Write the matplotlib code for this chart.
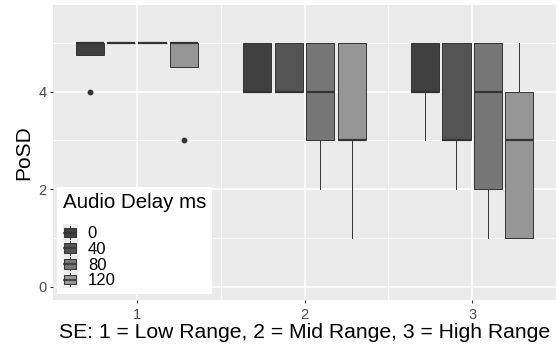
import matplotlib
matplotlib.use("Agg")
import matplotlib.pyplot as plt
from matplotlib.patches import Rectangle, Patch
from matplotlib.lines import Line2D
from matplotlib.legend_handler import HandlerBase

plt.rcParams['font.family'] = ['Liberation Sans', 'DejaVu Sans']

# SE groups on the x axis, audio delay series within each group
groups = [1, 2, 3]
delays = ['0', '40', '80', '120']
fills = ['#404040', '#545454', '#777777', '#969696']

# box statistics per delay, one value per SE group
q1 = {'0': [4.75, 4, 4], '40': [5, 4, 3], '80': [5, 3, 2], '120': [4.5, 3, 1]}
med = {'0': [5, 4, 4], '40': [5, 4, 3], '80': [5, 4, 4], '120': [5, 3, 3]}
q3 = {'0': [5, 5, 5], '40': [5, 5, 5], '80': [5, 5, 5], '120': [5, 5, 4]}
whislo = {'0': [4.75, 4, 3], '40': [5, 4, 2], '80': [5, 2, 1], '120': [4.5, 1, 1]}
whishi = {'0': [5, 5, 5], '40': [5, 5, 5], '80': [5, 5, 5], '120': [5, 5, 5]}
fliers = {'0': [[4], [], []], '40': [[], [], []], '80': [[], [], []], '120': [[3], [], []]}

y_ticks = [0, 2, 4]
x_ticks = [1, 2, 3]

W, H = 557, 347
fig = plt.figure(figsize=(W / 100, H / 100), dpi=100)
ax = fig.add_axes([53 / W, 1 - 300 / H, 503 / W, 295 / H])
ax.set_facecolor('#EBEBEB')

dodge = 0.75
n = len(delays)
slot = dodge / n
box_w = slot * 0.9
edge = '#333333'

for i, d in enumerate(delays):
    offset = -dodge / 2 + slot * (i + 0.5)
    stats = []
    for j, g in enumerate(groups):
        stats.append(dict(q1=q1[d][j], med=med[d][j], q3=q3[d][j],
                          whislo=whislo[d][j], whishi=whishi[d][j],
                          fliers=fliers[d][j]))
    pos = [g + offset for g in groups]
    ax.bxp(stats, positions=pos, widths=box_w, patch_artist=True,
           showcaps=False, manage_ticks=False,
           boxprops=dict(facecolor=fills[i], edgecolor=edge, linewidth=0.7),
           medianprops=dict(color=edge, linewidth=1.6, solid_capstyle='butt'),
           whiskerprops=dict(color=edge, linewidth=0.7),
           flierprops=dict(marker='o', markersize=3.2, markerfacecolor=edge,
                           markeredgecolor=edge, linestyle='none'),
           zorder=3)

ax.set_xlim(0.5, 3.5)
ax.set_ylim(-0.275, 5.775)
ax.set_xticks(x_ticks)
ax.set_xticklabels([str(x) for x in x_ticks])
ax.set_xticks([1.5, 2.5], minor=True)
ax.set_yticks(y_ticks)
ax.set_yticklabels([str(y) for y in y_ticks])
ax.set_yticks([1, 3, 5], minor=True)

ax.grid(True, which='major', color='white', linewidth=1.1)
ax.grid(True, which='minor', color='white', linewidth=0.55)
ax.set_axisbelow(True)
for s in ax.spines.values():
    s.set_visible(False)
ax.tick_params(which='major', length=2.5, width=0.8, color='#333333',
               labelsize=10.5, labelcolor='#4D4D4D')
ax.tick_params(axis='x', which='major', pad=3.5)
ax.tick_params(axis='y', which='major', pad=2)
ax.tick_params(which='minor', length=0)

ax.set_xlabel('SE: 1 = Low Range, 2 = Mid Range, 3 = High Range',
              fontsize=15.2, labelpad=0.5)
ax.set_ylabel('PoSD', fontsize=15, labelpad=4)


class BoxKey(HandlerBase):
    def create_artists(self, legend, orig_handle, xdescent, ydescent,
                       width, height, fontsize, trans):
        bg = Rectangle((-xdescent, -ydescent - 1), width, height + 2,
                       facecolor='#EBEBEB', edgecolor='none', transform=trans)
        bw = width * 0.8
        bx = -xdescent + (width - bw) / 2
        bh = height * 0.7
        by = -ydescent + (height - bh) / 2
        cx = -xdescent + width / 2
        wl = Line2D([cx, cx], [-ydescent, -ydescent + height], color=edge,
                    linewidth=0.7, transform=trans)
        box = Rectangle((bx, by), bw, bh, facecolor=orig_handle.get_facecolor(),
                        edgecolor=edge, linewidth=0.7, transform=trans)
        ml = Line2D([bx, bx + bw], [by + bh / 2] * 2, color=edge,
                    linewidth=1.2, transform=trans)
        return [bg, wl, box, ml]


handles = [Patch(facecolor=c) for c in fills]
leg = ax.legend(handles, delays, title='Audio Delay ms', loc='lower left',
                bbox_to_anchor=(0.008, 0.02), borderaxespad=0,
                fontsize=12, title_fontsize=14.8, frameon=True, fancybox=False,
                framealpha=1, edgecolor='white', handler_map={Patch: BoxKey()},
                handlelength=0.9, handleheight=0.9, handletextpad=0.6,
                labelspacing=0.0, borderpad=0.35, alignment='left')
leg.get_frame().set_linewidth(0)
# gap between the legend title and its entries
leg._legend_box.sep = 10
leg.set_zorder(5)

fig.savefig('out.png', dpi=100)
